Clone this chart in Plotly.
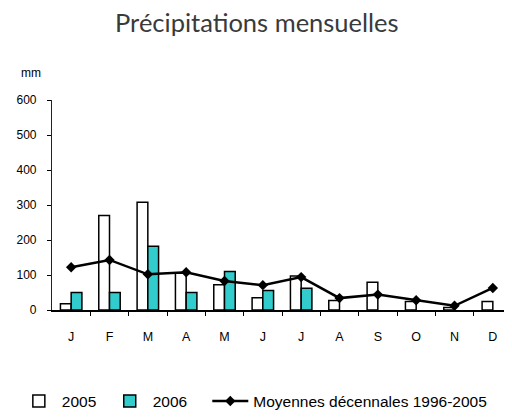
import plotly.graph_objects as go

months = ["J", "F", "M", "A", "M", "J", "J", "A", "S", "O", "N", "D"]
pluie_2005 = [18, 270, 308, 105, 72, 35, 97, 27, 79, 24, 7, 24]
pluie_2006 = [50, 50, 182, 50, 110, 56, 62, None, None, None, None, None]
moyennes = [122, 143, 102, 108, 83, 71, 94, 34, 44, 28, 12, 63]

x = list(range(len(months)))

fig = go.Figure()
fig.add_trace(go.Bar(x=x, y=pluie_2005, name="2005", legend="legend",
                     marker=dict(color="white", line=dict(color="black", width=1.5))))
fig.add_trace(go.Bar(x=x, y=pluie_2006, name="2006", legend="legend2",
                     marker=dict(color="#33CCCC", line=dict(color="black", width=1.5))))
fig.add_trace(go.Scatter(x=x, y=moyennes, name="Moyennes décennales 1996-2005",
                         legend="legend3", mode="lines+markers",
                         line=dict(color="black", width=2.5),
                         marker=dict(symbol="diamond", size=8, color="black")))

leg_common = dict(orientation="h", xanchor="left", y=-0.435, yanchor="middle",
                  font=dict(size=15.5, family="Liberation Sans"), itemwidth=36,
                  bgcolor="rgba(0,0,0,0)")

fig.update_layout(
    width=512, height=419,
    margin=dict(l=33, r=8, t=92, b=110),
    paper_bgcolor="white", plot_bgcolor="white",
    barmode="group", bargap=0.44, bargroupgap=0,
    title=dict(text="Précipitations mensuelles", x=0.486, xanchor="center",
               xref="container", y=1 - 15 / 419, yanchor="middle",
               font=dict(family="Lato", size=25.5, color="#3a3a3a")),
    font=dict(family="Liberation Sans", size=12, color="black"),
    showlegend=True,
    legend=dict(x=-0.0786, **leg_common),
    legend2=dict(x=0.119, **leg_common),
    legend3=dict(x=0.3376, **leg_common),
    annotations=[dict(text="mm", xref="paper", yref="paper", x=-0.072, y=(309 - 64) / 217,
                      xanchor="left", yanchor="middle", showarrow=False,
                      font=dict(size=12, color="black"))],
)
fig.update_xaxes(range=[-0.5, 11.5], tickmode="array", tickvals=x, ticktext=months,
                 showline=True, linecolor="black", linewidth=1.5, automargin=False,
                 ticks="", showgrid=False, zeroline=False, ticklabelstandoff=14,
                 tickfont=dict(size=12.5),
                 minor=dict(tickmode="array", tickvals=[i + 0.5 for i in x[:-1]],
                            ticks="outside", ticklen=4, tickcolor="black", tickwidth=1))
fig.update_yaxes(range=[0, 600], dtick=100, showline=True, linecolor="#222222", linewidth=1.2,
                 automargin=False, tickfont=dict(size=12), ticklabelstandoff=8,
                 ticks="outside", ticklen=4, tickcolor="black", showgrid=False, zeroline=False)

fig.write_html("out.html")
